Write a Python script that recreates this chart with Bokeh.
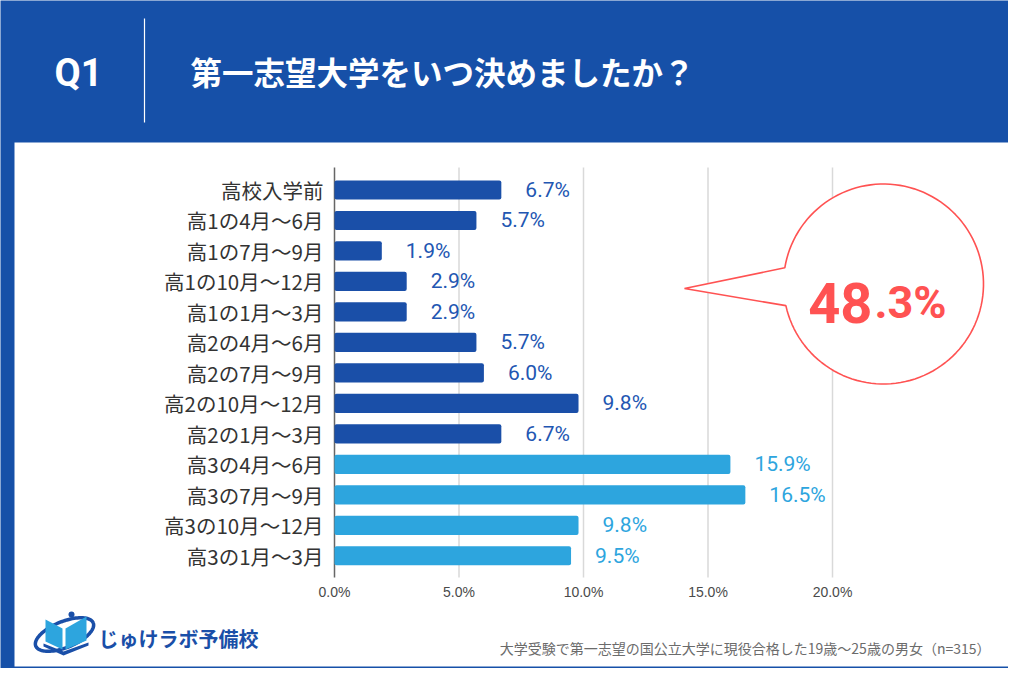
import math
from bokeh.plotting import figure
from bokeh.models import Range1d
from bokeh.embed import file_html
from bokeh.resources import INLINE
from bokeh.core.properties import value

# ---------------- data ----------------
categories = ["高校入学前", "高1の4月～6月", "高1の7月～9月", "高1の10月～12月", "高1の1月～3月",
              "高2の4月～6月", "高2の7月～9月", "高2の10月～12月", "高2の1月～3月",
              "高3の4月～6月", "高3の7月～9月", "高3の10月～12月", "高3の1月～3月"]
values = [6.7, 5.7, 1.9, 2.9, 2.9, 5.7, 6.0, 9.8, 6.7, 15.9, 16.5, 9.8, 9.5]
ticks = [0, 5, 10, 15, 20]
tick_labels = ["0.0%", "5.0%", "10.0%", "15.0%", "20.0%"]
highlight_int = "48"
highlight_dec = ".3%"
question = "Q1"
title = "第一志望大学をいつ決めましたか？"
note = "大学受験で第一志望の国公立大学に現役合格した19歳～25歳の男女（n=315）"
brand = "じゅけラボ予備校"

# ---------------- styles ----------------
BLUE = "#1650A8"
DARK = "#1A4FA8"
LIGHT = "#2DA5DE"
DARK_TXT = "#2256B2"
RED = "#FF5252"
JP = value("Noto Sans CJK JP")
RB = value("Roboto")

# canvas-pixel -> data helpers
X0, SX = 334.0, 24.9      # 0% at px 334, 1% = 24.9 px
Y0, SY = 189.5, 30.48     # first row centre, row pitch
W, H = 1008, 668


def X(px):
    return (px - X0) / SX


def Y(py):
    return (py - Y0) / SY


p = figure(width=W, height=H,
           x_range=Range1d(X(0), X(W)), y_range=Range1d(Y(H), Y(0)),
           output_backend="svg", toolbar_location=None, min_border=0,
           x_axis_type=None, y_axis_type=None,
           background_fill_color=BLUE, border_fill_color=BLUE,
           outline_line_color=None)

# white panel
p.quad(left=[X(14)], right=[X(1009)], top=[Y(142)], bottom=[Y(666)],
       fill_color="white", line_color=None)

# header
p.text(x=[X(78)], y=[Y(72)], text=[question], text_font=RB, text_font_style="bold",
       text_font_size="38px", text_color="white", text_align="center", text_baseline="middle")
p.segment(x0=[X(144)], y0=[Y(18)], x1=[X(144)], y1=[Y(122)], line_color="white", line_width=1.2)
p.text(x=[X(190)], y=[Y(70)], text=[title], text_font=JP, text_font_style="bold",
       text_font_size="31.5px", text_color="white", text_align="left", text_baseline="middle")

# grid lines + axis line
grid_ticks = [t for t in ticks if t != 0]
p.segment(x0=grid_ticks, y0=[Y(167)] * len(grid_ticks), x1=grid_ticks, y1=[Y(577)] * len(grid_ticks),
          line_color="#D9D9D9", line_width=1.5)
p.segment(x0=[0], y0=[Y(167)], x1=[0], y1=[Y(577)], line_color="#666666", line_width=1.5)
p.text(x=ticks, y=[Y(591)] * len(ticks), text=tick_labels, text_font=value("Liberation Sans"),
       text_font_size="14px", text_color="#4A4A4A", text_align="center", text_baseline="middle")

# bars
idx = list(range(len(categories)))
colors = [LIGHT if c.startswith("高3") else DARK for c in categories]
txt_colors = [LIGHT if c.startswith("高3") else DARK_TXT for c in categories]
p.hbar(y=idx, left=0, right=values, height=0.63, fill_color=colors, line_color=None,
       border_radius=2)

# category labels
p.text(x=[0] * len(idx), y=idx, text=categories, x_offset=-11, text_font=JP,
       text_font_size="20.5px", text_color="#333333", text_align="right", text_baseline="middle")

# value labels
p.text(x=values, y=idx, text=[f"{v:.1f}%" for v in values], x_offset=24, text_font=RB,
       text_font_size="21px", text_color=txt_colors, text_align="left", text_baseline="middle")

# callout bubble
cx, cy, r = 883.0, 283.5, 100.0
tip = (684.0, 288.0)
a0 = math.radians(189.3)
a1 = math.radians(167.5 + 360)
bx, by = [], []
n = 120
for i in range(n + 1):
    a = a0 + (a1 - a0) * i / n
    bx.append(X(cx + r * math.cos(a)))
    by.append(Y(cy + r * math.sin(a)))
bx.append(X(tip[0]))
by.append(Y(tip[1]))
p.patch(bx, by, fill_color="white", line_color=RED, line_width=1.6)
p.text(x=[X(872)], y=[Y(302)], text=[highlight_int], text_font=RB, text_font_style="bold",
       text_font_size="56px", text_color=RED, text_align="right", text_baseline="alphabetic")
p.text(x=[X(874)], y=[Y(302)], text=[highlight_dec], text_font=RB, text_font_style="bold",
       text_font_size="45px", text_color=RED, text_align="left", text_baseline="alphabetic")

# logo (decorative)
ecx, ecy, ea, eb, th = 64.0, 634.0, 31.0, 13.0, math.radians(-22)
lx, ly = [], []
for i in range(0, 101):
    t = 2 * math.pi * i / 100
    ex = ecx + ea * math.cos(t) * math.cos(th) - eb * math.sin(t) * math.sin(th)
    ey = ecy + ea * math.cos(t) * math.sin(th) + eb * math.sin(t) * math.cos(th)
    lx.append(X(ex))
    ly.append(Y(ey))
p.line(lx, ly, line_color=DARK, line_width=3.5)
p.patch([X(45), X(62), X(62), X(45)], [Y(619), Y(628), Y(649), Y(641)], fill_color=LIGHT, line_color=None)
p.patch([X(65), X(86), X(86), X(65)], [Y(628), Y(616), Y(640), Y(649)], fill_color=LIGHT, line_color=None)
p.patch([X(43), X(63), X(88), X(88), X(63), X(43)],
        [Y(643), Y(651), Y(642), Y(645), Y(655), Y(646)], fill_color=DARK, line_color=None)
p.scatter(x=[X(71)], y=[Y(614)], size=6, fill_color=DARK, line_color=None)
p.text(x=[X(98)], y=[Y(638)], text=[brand], text_font=JP, text_font_style="bold",
       text_font_size="20px", text_color=DARK, text_align="left", text_baseline="middle")

# footnote
p.text(x=[X(990)], y=[Y(647)], text=[note], text_font=JP, text_font_size="14px",
       text_color="#6B6B6B", text_align="right", text_baseline="middle")

open("out.html", "w").write(file_html(p, INLINE))
